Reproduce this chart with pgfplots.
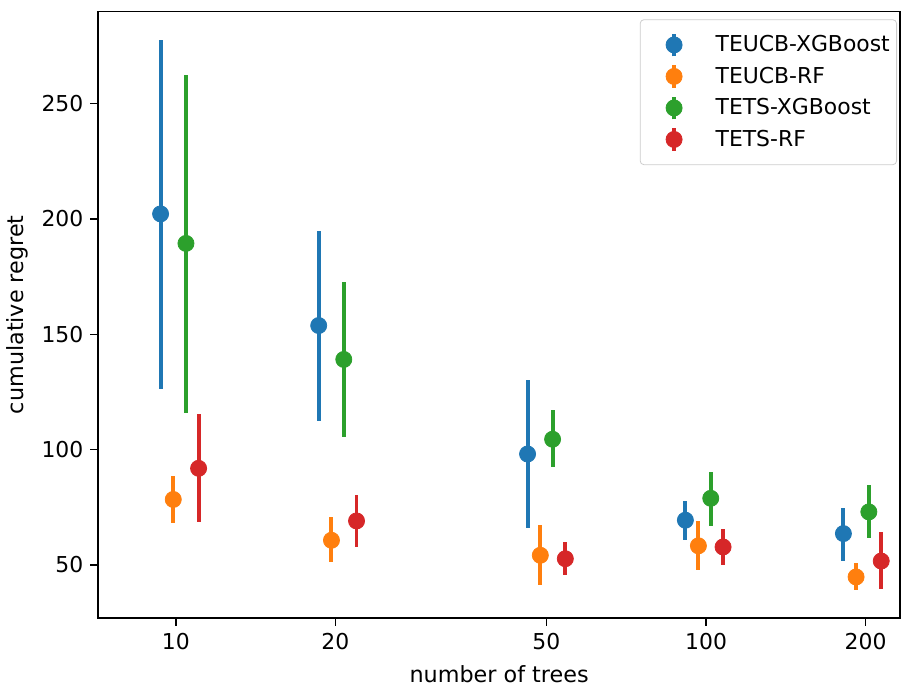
\documentclass[border=0pt]{standalone}
\usepackage{fontspec}
\setmainfont{DejaVu Sans}
\usepackage{pgfplots}
\pgfplotsset{compat=1.18}
\definecolor{c1}{HTML}{1F77B4}
\definecolor{c2}{HTML}{FF7F0E}
\definecolor{c3}{HTML}{2CA02C}
\definecolor{c4}{HTML}{D62728}
\pgfplotsset{
  errleg/.style={legend image code/.code={
    \path (0cm,0cm) (1.22cm,0cm);
    \draw[line width=2bp,#1] (0.55cm,-0.205cm)--(0.55cm,0.205cm);
    \fill[#1] (0.55cm,0cm) circle (4.1bp);}},
  errplot/.style={only marks, mark=*, mark size=4.1bp, color=#1,
    mark options={fill=#1, draw=#1},
    error bars/y dir=both, error bars/y explicit, error bars/error mark=none,
    error bars/error bar style={line width=2bp, #1}},
}
\begin{document}
\begin{tikzpicture}
\begin{axis}[
  xmode=log, scale only axis, width=408.8bp, height=309.2bp,
  xmin=7.135, xmax=232.4, ymin=26.96, ymax=290,
  xtick={10,20,50,100,200}, xticklabels={10,20,50,100,200}, minor xtick={},
  ytick={50,100,150,200,250},
  tick align=outside, major tick length=4bp,
  tick style={black, line width=0.8bp},
  xtick pos=lower, ytick pos=left,
  axis line style={line width=0.8bp},
  tick label style={font=\fontsize{11.2}{13}\selectfont},
  label style={font=\fontsize{11.4}{13}\selectfont},
  xlabel={number of trees}, ylabel={cumulative regret},
  xlabel style={yshift=-1.5bp},
  /pgf/number format/assume math mode=true,
  legend cell align=left,
  legend style={at={(axis description cs:0.996,0.987)}, anchor=north east,
    draw=black!20, rounded corners=2bp, fill=white, row sep=2.3bp,
    inner xsep=1.5bp, inner ysep=6bp, font=\fontsize{11.2}{13}\selectfont},
]
\addplot[errplot=c1, errleg=c1] table[x=x,y=y,y error plus=ep,y error minus=em] {
x y ep em
9.36 202.2 75.6 76.1
18.60 153.8 41.1 41.2
46.07 98.1 32.2 31.9
91.42 69.4 8.4 8.5
181.6 63.6 11.3 11.9
};
\addlegendentry{TEUCB-XGBoost}
\addplot[errplot=c2, errleg=c2] table[x=x,y=y,y error plus=ep,y error minus=em] {
x y ep em
9.89 78.4 10.2 10.4
19.66 60.7 9.9 9.2
48.69 54.2 13.1 13.1
96.74 58.3 10.8 10.6
191.9 44.8 6.2 5.8
};
\addlegendentry{TEUCB-RF}
\addplot[errplot=c3, errleg=c3] table[x=x,y=y,y error plus=ep,y error minus=em] {
x y ep em
10.45 189.4 73.2 73.6
20.74 139.1 33.7 33.8
51.36 104.5 12.5 12.2
102.07 78.9 11.5 12.0
202.8 73.0 11.7 11.4
};
\addlegendentry{TETS-XGBoost}
\addplot[errplot=c4, errleg=c4] table[x=x,y=y,y error plus=ep,y error minus=em] {
x y ep em
11.04 91.9 23.4 23.3
21.92 69.1 11.3 11.3
54.28 52.7 7.4 7.2
107.68 57.8 8.0 7.8
214.0 51.7 12.4 12.3
};
\addlegendentry{TETS-RF}
\end{axis}
\path ([yshift=5.8bp]current axis.north);
\end{tikzpicture}
\end{document}
